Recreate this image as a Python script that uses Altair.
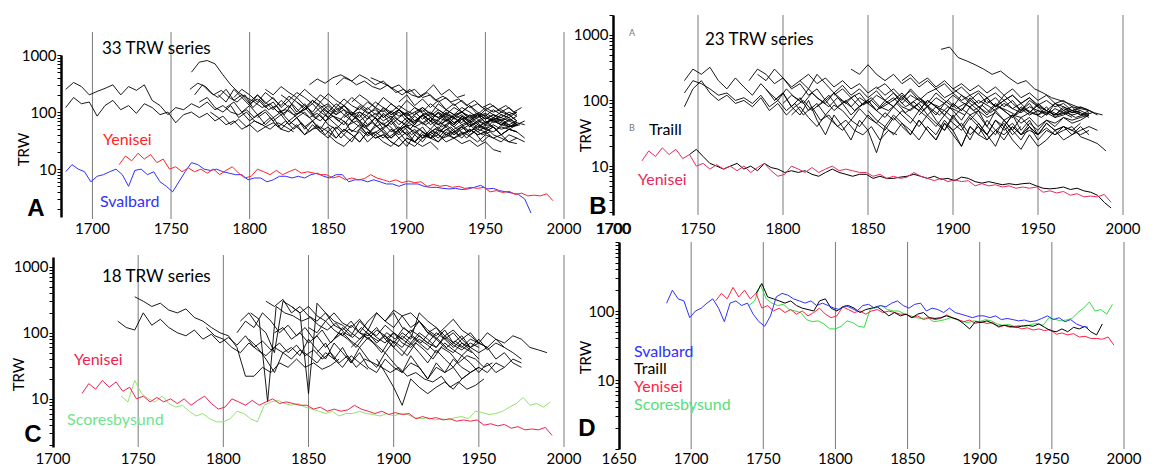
import altair as alt
import pandas as pd

FONT = "Lato"

# ---------------- Panel A: 33 TRW series (start year, values every 5 years) ----------------
A_STEP = 5
A_SERIES = [
    (1683, [250, 330, 280, 200, 230, 260, 300, 200, 280, 240, 300, 160, 130, 90, 120, 110, 140, 120, 150, 110, 130, 100, 90, 110, 80, 100]),
    (1683, [120, 180, 140, 150, 85, 130, 160, 110, 130, 95, 140, 120, 90, 100, 65, 90, 100, 80, 95, 70, 85, 60, 75, 55, 70, 60, 50, 65, 55, 45]),
    (1763, [500, 750, 800, 700, 450, 300, 220, 180, 150, 120, 140, 100, 110, 90, 100, 80, 95, 70, 85, 75, 60, 70, 55, 65, 50, 60, 45, 55, 60, 50, 40, 50, 45, 55, 40, 45, 50, 40, 45]),
    (1762, [250, 320, 280, 200, 240, 180, 150, 200, 120, 160, 110, 130, 90, 140, 100, 120, 80, 110, 90, 70, 100, 80, 60, 90, 70, 55, 80, 65, 50, 70, 60, 75, 55, 65, 50, 60, 70, 55, 60, 50, 65, 55, 60]),
    (1765, [200, 300, 220, 180, 250, 160, 200, 140, 170, 120, 150, 100, 130, 90, 110, 140, 100, 80, 120, 90, 70, 100, 85, 60, 95, 75, 110, 80, 65, 90, 70, 100, 80, 60, 85, 70, 90, 65, 75, 80]),
    (1768, [150, 180, 120, 100, 130, 80, 100, 70, 60, 80, 55, 70, 50, 65, 45, 60, 40, 55, 35, 50, 45, 60, 40, 50, 35, 45, 55, 40, 50, 38, 45, 35, 40, 50, 35, 45, 30, 40]),
    (1775, [100, 80, 60, 70, 50, 60, 45, 55, 65, 50, 45, 60, 40, 50, 55, 45, 35, 50, 40, 30, 45, 35, 40, 30, 25, 35, 30, 25, 30, 22]),
    (1780, [200, 150, 250, 180, 130, 200, 150, 110, 160, 120, 180, 130, 100, 150, 110, 90, 130, 100, 80, 120, 90, 110, 80, 100, 70, 90, 110, 80, 95, 70, 85, 100, 75, 90, 65, 80, 70, 90, 70]),
    (1785, [120, 150, 100, 130, 90, 110, 80, 100, 70, 90, 120, 85, 70, 100, 75, 60, 90, 70, 55, 80, 60, 75, 50, 70, 55, 65, 80, 60, 70, 55, 75, 60, 65, 50, 70, 60, 55, 65]),
    (1790, [180, 250, 200, 150, 220, 170, 130, 190, 150, 110, 160, 120, 140, 100, 130, 90, 120, 95, 110, 80, 105, 85, 95, 70, 90, 100, 80, 95, 75, 90, 70, 85, 95, 80, 100, 90, 70]),
    (1795, [100, 70, 90, 60, 80, 50, 70, 55, 40, 60, 45, 55, 35, 50, 40, 30, 45, 35, 40, 30, 25, 35, 30, 40, 35, 30, 40, 35, 45, 38, 30, 40, 35, 30, 40, 35, 30]),
    (1800, [150, 200, 140, 180, 120, 160, 100, 140, 90, 120, 80, 110, 130, 90, 100, 75, 95, 70, 85, 60, 80, 65, 90, 70, 60, 85, 65, 75, 55, 70, 60, 75, 65, 55, 60]),
    (1805, [80, 100, 70, 90, 60, 80, 55, 70, 90, 60, 50, 70, 45, 60, 40, 55, 65, 45, 55, 40, 50, 35, 45, 55, 40, 50, 60, 45, 55, 50, 60, 50, 55, 60]),
    (1810, [250, 200, 280, 220, 180, 250, 190, 150, 210, 160, 130, 180, 140, 110, 150, 120, 100, 130, 105, 90, 120, 95, 80, 110, 90, 100, 80, 95, 75, 90, 80, 70, 85]),
    (1815, [120, 90, 110, 80, 100, 70, 50, 80, 60, 45, 70, 55, 40, 60, 45, 35, 50, 40, 30, 45, 35, 40, 30, 35, 28, 32, 25, 30, 22, 20]),
    (1820, [200, 160, 220, 180, 140, 200, 160, 120, 170, 130, 110, 150, 120, 100, 140, 110, 90, 120, 95, 85, 110, 90, 80, 100, 85, 95, 75, 90, 80, 100, 85]),
    (1825, [60, 80, 50, 70, 45, 35, 55, 40, 30, 50, 38, 45, 35, 50, 40, 55, 45, 35, 50, 40, 60, 45, 55, 40, 50, 45, 55, 40, 50, 45]),
    (1830, [150, 120, 160, 130, 100, 140, 110, 90, 130, 100, 80, 120, 90, 110, 85, 100, 75, 95, 80, 70, 90, 75, 85, 65, 80, 70, 90, 80, 100]),
    (1838, [300, 380, 320, 400, 450, 380, 300, 350, 280, 250, 300, 220, 250, 200, 180, 220, 160, 190, 150, 170, 130, 160, 120, 140, 110, 130, 100, 120]),
    (1845, [100, 130, 90, 110, 70, 90, 60, 80, 50, 70, 45, 60, 40, 55, 35, 50, 40, 45, 35, 50, 40, 45, 35, 40, 30, 35]),
    (1850, [40, 30, 25, 35, 45, 30, 40, 50, 35, 45, 30, 25, 35, 40, 30, 45, 35, 40, 50, 40, 45, 55, 40, 50, 45]),
    (1855, [300, 400, 350, 450, 380, 300, 350, 260, 300, 220, 250, 180, 200, 150, 180, 130, 160, 120, 140, 110, 130, 100, 120, 90]),
    (1860, [80, 100, 70, 90, 120, 80, 100, 70, 60, 85, 65, 50, 70, 55, 80, 60, 70, 55, 65, 75, 60, 70, 60]),
    (1865, [150, 200, 160, 120, 180, 140, 110, 160, 120, 100, 140, 110, 90, 120, 100, 130, 100, 85, 110, 90, 80]),
    (1870, [60, 50, 40, 30, 25, 35, 45, 30, 40, 35, 45, 55, 40, 50, 60, 45, 55, 40, 35, 30, 28]),
    (1877, [400, 350, 300, 250, 200, 250, 180, 220, 300, 200, 250, 180, 200]),
    (1880, [70, 90, 60, 80, 100, 70, 85, 60, 75, 90, 65, 80, 55, 70, 85, 65, 75, 60, 70]),
    (1885, [120, 90, 110, 80, 60, 90, 70, 100, 75, 60, 85, 65, 80, 90, 70, 60, 75, 65]),
    (1890, [50, 35, 25, 40, 30, 45, 35, 50, 40, 55, 45, 60, 50, 45, 55, 50, 60]),
    (1895, [150, 200, 130, 170, 120, 160, 110, 140, 100, 130, 90, 120, 100, 110, 90, 100]),
    (1900, [80, 60, 90, 70, 50, 75, 60, 85, 65, 50, 70, 55, 40, 50, 45, 35]),
    (1905, [100, 120, 90, 140, 110, 90, 120, 100, 80, 110, 90, 70, 80, 60, 70]),
    (1910, [60, 80, 70, 100, 80, 65, 90, 75, 60, 80, 70, 55, 65, 60]),
]

# ---------------- Panel B: 23 TRW series ----------------
B_STEP = 5
B_SERIES = [
    (1742, [200, 300, 250, 320, 200, 150, 220, 160, 120, 180, 130, 100, 150, 110, 90, 130, 100, 80, 110, 90, 120, 85, 100, 75, 90, 110, 80, 95, 70, 90, 80, 100, 75, 90, 70, 85, 65, 80, 70, 60, 75, 65, 55, 70, 60, 65, 55, 60, 65]),
    (1742, [130, 200, 180, 150, 120, 130, 100, 110, 90, 120, 80, 100, 70, 90, 60, 80, 50, 60, 40, 50, 35, 30, 40, 25, 35, 30]),
    (1742, [80, 150, 200, 130, 100, 120, 90, 100, 80, 110, 70, 90, 60, 80, 100, 70, 90, 120, 80, 100, 70, 90, 110, 80, 70, 90, 65, 80, 100, 75, 60, 80, 70, 60]),
    (1780, [200, 300, 250, 180, 220, 150, 180, 120, 150, 100, 130, 90, 110, 80, 100, 70, 90, 110, 80, 70, 90, 60, 80, 70, 55, 75, 60, 70, 55, 65, 50, 60, 55, 65, 60, 70, 60, 65, 55]),
    (1785, [250, 200, 300, 220, 160, 200, 150, 250, 180, 130, 170, 120, 150, 110, 140, 100, 130, 90, 120, 100, 80, 110, 90, 120, 95, 80, 100, 85, 70, 90, 75, 65, 80, 70, 60, 75, 65, 70, 60, 65]),
    (1790, [150, 100, 130, 80, 60, 100, 50, 30, 60, 40, 25, 50, 35, 16, 40, 30, 45, 35, 25, 40, 30, 50, 35, 45, 30, 40, 25, 35, 45, 30, 40]),
    (1795, [100, 130, 80, 110, 70, 90, 60, 85, 70, 50, 75, 55, 45, 65, 50, 70, 55, 40, 60, 45, 35, 55, 40, 60, 45, 30, 50, 35, 45, 30, 40, 25, 35, 30, 40, 35, 45]),
    (1800, [90, 120, 100, 150, 110, 90, 130, 100, 80, 110, 90, 70, 100, 80, 120, 90, 70, 100, 80, 60, 90, 70, 100, 80, 60, 85, 70, 55, 75, 60, 70, 65, 55, 60, 70, 65]),
    (1805, [60, 80, 55, 40, 60, 45, 35, 50, 40, 60, 45, 35, 55, 40, 30, 50, 35, 25, 45, 35, 20, 40, 30, 25, 35, 30, 40, 30, 35, 30]),
    (1810, [200, 250, 180, 220, 160, 200, 150, 180, 130, 160, 120, 150, 110, 140, 100, 130, 150, 110, 130, 100, 120, 90, 110, 80, 100, 120, 90, 110, 80, 70, 90, 80, 70, 75]),
    (1820, [80, 100, 70, 90, 60, 80, 100, 70, 55, 80, 60, 45, 70, 55, 40, 60, 45, 35, 55, 40, 30, 50, 40, 60, 45, 55, 40, 50, 45, 55, 50, 55, 60]),
    (1830, [120, 150, 110, 130, 90, 120, 100, 80, 110, 85, 70, 100, 80, 60, 90, 70, 110, 80, 65, 90, 70, 55, 80, 65, 90, 70, 60, 80, 65, 70, 60]),
    (1840, [300, 250, 350, 250, 200, 250, 180, 220, 160, 200, 150, 180, 130, 160, 120, 140, 110, 130, 100, 120, 90, 110, 85, 100, 80, 90, 70, 80, 70]),
    (1850, [70, 50, 40, 60, 45, 30, 50, 35, 25, 45, 30, 20, 40, 30, 50, 35, 25, 40, 30, 45, 35, 50, 40, 55, 45, 50, 60]),
    (1855, [150, 180, 130, 100, 150, 110, 90, 130, 100, 80, 120, 90, 70, 110, 80, 100, 75, 90, 65, 85, 70, 60, 75, 65, 70]),
    (1865, [100, 130, 90, 110, 80, 60, 90, 70, 50, 80, 60, 40, 70, 50, 35, 55, 40, 30, 45, 35, 40, 35, 30, 35]),
    (1870, [200, 250, 180, 220, 160, 200, 150, 180, 140, 170, 130, 160, 120, 150, 110, 130, 100, 120, 90, 100, 80, 75, 70]),
    (1880, [60, 80, 50, 35, 60, 40, 25, 45, 30, 20, 40, 25, 18, 30, 20, 25, 35, 25, 30, 40, 30]),
    (1893, [600, 650, 450, 400, 350, 300, 250, 280, 220, 180, 200, 150, 130, 110, 100, 90, 80, 75, 65, 60]),
    (1900, [150, 120, 100, 130, 90, 110, 80, 100, 70, 90, 60, 80, 55, 70, 60, 65, 55]),
    (1910, [50, 70, 40, 30, 50, 35, 25, 40, 30, 38, 30, 35, 40, 28, 25, 22, 17]),
    (1920, [100, 80, 120, 90, 70, 100, 80, 60, 90, 70, 80, 60, 70, 60]),
    (1930, [40, 60, 35, 50, 30, 45, 35, 40, 30, 35, 40, 35]),
]

# ---------------- Panel C: 18 TRW series ----------------
C_STEP = 5
C_SERIES = [
    (1738, [150, 120, 110, 200, 130, 160, 120, 100, 90, 110, 80, 95, 70, 85, 65, 90, 60, 75, 55, 70, 50, 65, 45, 55, 40, 50, 35, 45, 30, 40, 35, 30, 25, 30, 22, 25, 20, 18, 22, 15, 18, 14, 16, 20]),
    (1748, [350, 300, 250, 280, 220, 200, 230, 170, 150, 120, 100, 90, 60, 22, 22, 30, 25, 35, 30, 40, 30, 35, 28, 32, 40]),
    (1790, [120, 90, 80, 60, 50, 70, 55, 45, 60, 50, 40, 55, 45, 35, 50, 40, 30, 45, 35, 28]),
    (1808, [100, 150, 120, 200, 150, 100, 130, 90, 120, 80, 110, 70, 100, 80, 60, 90, 70, 50, 80, 60, 45, 70, 55, 40, 60, 50, 35, 45, 40, 30, 35]),
    (1810, [150, 200, 130, 100, 50, 300, 250, 200, 250, 180, 150, 200, 140, 120, 160, 110, 90, 130, 100, 80, 110, 90, 70, 100, 80, 60, 80, 60, 70]),
    (1815, [80, 60, 40, 25, 50, 60, 45, 80, 55, 40, 70, 50, 35, 60, 40, 30, 50, 35, 25, 45, 30, 20, 35, 25, 30, 20, 25]),
    (1816, [200, 160, 9, 250, 200, 180, 150, 170, 130, 110, 140, 100, 85, 120, 90, 75, 100, 80, 120, 90, 70, 100, 80, 60, 75, 60, 50]),
    (1825, [300, 250, 320, 200, 250, 180, 150, 200, 130, 110, 150, 100, 90, 120, 80, 100, 70, 60, 80, 65, 50, 70, 55, 45, 60]),
    (1830, [100, 120, 80, 100, 70, 90, 60, 80, 100, 75, 60, 85, 65, 50, 75, 60, 90, 70, 55, 80, 60, 50, 70, 55, 40]),
    (1840, [250, 200, 12, 280, 200, 150, 130, 100, 80, 110, 85, 70, 100, 80, 65, 90, 70, 60, 85, 65, 55, 70, 60]),
    (1850, [120, 100, 150, 110, 90, 130, 100, 80, 110, 90, 70, 100, 80, 200, 150, 120, 90, 110, 80, 100, 70, 60]),
    (1855, [50, 70, 40, 60, 35, 50, 30, 25, 40, 30, 25, 35, 30, 20, 30, 25, 40, 30, 25, 30]),
    (1865, [80, 120, 90, 150, 110, 200, 150, 120, 180, 200, 150, 100, 80, 110, 70, 90, 60, 50, 60, 40, 50, 35, 30]),
    (1875, [60, 80, 100, 70, 90, 60, 45, 70, 50, 35, 55, 40, 30, 45, 35, 25, 35, 25, 30]),
    (1880, [100, 150, 200, 150, 220, 180, 120, 150, 100, 120, 80, 100, 70, 60, 80, 55, 70, 60]),
    (1890, [40, 25, 15, 8, 20, 15, 12, 15, 18, 14, 20, 25, 30, 25, 35, 30, 40, 35]),
    (1895, [150, 200, 120, 100, 150, 110, 90, 120, 160, 110, 90, 70, 100, 80, 60, 50, 40]),
    (1895, [80, 60, 90, 70, 100, 80, 60, 90, 70, 60, 80, 70, 60, 80, 70, 90, 80, 60, 55, 50]),
]

# ---------------- Regional chronologies (values every 4 years) ----------------
CHRON_STEP = 4
YENISEI_START = 1717
YENISEI = [12, 17, 14, 19, 15, 18, 13, 15, 10, 11, 9, 10.5, 9, 10, 8.5, 10, 8, 9.5, 11, 8.5,
           7, 7.5, 10, 9, 8, 9.5, 8, 9, 10, 8.5, 9, 8.5, 8, 8, 7, 7.5, 6.5, 7, 6.5, 6.8,
           8, 7, 6.5, 6, 6.5, 5.8, 6.2, 5.8, 6, 5, 5.4, 5, 5.2, 4.8, 5, 4.6, 4.8, 4.6, 4.8, 4,
           4.2, 3.9, 4.1, 3.6, 3.8, 3.4, 3.5, 3.4, 3.7, 2.8]
SVALBARD_A_START = 1683
SVALBARD_A = [9, 12, 10, 9, 6, 7.5, 8, 9, 10, 8, 5, 9.5, 10, 8, 9, 6, 5, 4, 6, 9, 13, 12, 10, 9.5, 10,
              9, 8.5, 8, 8, 6.5, 7, 7, 6, 6.5, 7.5, 7.5, 7, 7.5, 7, 8, 8.5, 7.5, 7, 8, 8, 6, 6.5, 6.5,
              6, 6.5, 6, 5.5, 5.5, 5, 5.5, 5.5, 5.5, 5, 4.8, 4.8, 4.6, 4.5, 4.6, 4.4, 4.5, 4.8, 5.2,
              4.5, 4.6, 4.2, 4.0, 3.8, 3.6, 3.0, 1.7]
TRAILL_B_START = 1745
TRAILL_B = [15, 18, 14, 11, 10, 9, 10, 11, 9, 10, 8.5, 11, 9.5, 9, 8, 8.5, 8, 8.5, 7.5, 7, 8, 9, 8,
            7.5, 7, 7.5, 7.5, 6.5, 7, 6.5, 6.5, 6.8, 7, 7.5, 7, 6.5, 7, 6.3, 6.5, 6, 6.8, 6.5, 5.8,
            5.5, 5.8, 5.5, 5.2, 5.4, 5.2, 5.4, 5.5, 5.0, 4.6, 4.5, 4.6, 4.8, 4.4, 4.6, 4.2, 4.0, 3.6, 2.8, 2.3]
SCORESBY_C_START = 1740
SCORESBY_C = [11, 9, 19, 12, 10, 9, 11, 8.5, 7.5, 8, 6.5, 5.5, 6, 5, 4.5, 4.5, 5, 6.5, 6, 5, 4.5, 8, 9,
              9.5, 8.5, 8, 8.5, 7.5, 7, 6.5, 6, 6.5, 5.5, 6, 6, 6.5, 6, 5.8, 5.5, 6, 5.5, 6, 5.8, 5.2, 5,
              5.2, 4.8, 5, 4.8, 5.2, 5.4, 5.0, 6.5, 6.2, 5.8, 6, 6.5, 7.5, 8.5, 10.5, 8, 8.5, 7.5, 9]

D_SVALBARD_START = 1683
D_SVALBARD = [130, 200, 150, 140, 80, 100, 110, 130, 150, 110, 70, 130, 140, 120, 130, 90, 70, 60, 85,
              160, 180, 170, 150, 140, 130, 140, 120, 130, 120, 110, 105, 120, 110, 100, 120, 125, 110,
              120, 115, 130, 140, 120, 110, 125, 130, 100, 110, 105, 95, 110, 95, 90, 85, 80, 85, 85,
              80, 85, 75, 78, 75, 72, 74, 70, 72, 78, 85, 75, 80, 70, 75, 65, 60, 58]
D_TRAILL_START = 1745
D_TRAILL = [180, 250, 160, 150, 140, 130, 140, 120, 110, 105, 100, 140, 150, 110, 100, 115, 120, 110,
            95, 105, 110, 115, 100, 85, 95, 85, 90, 80, 90, 95, 80, 78, 80, 85, 80, 75, 65, 55, 70, 68,
            72, 66, 60, 62, 60, 58, 60, 62, 60, 65, 58, 52, 50, 55, 50, 58, 55, 60, 50, 45, 65]
D_YENISEI_START = 1717
D_YENISEI = [140, 180, 150, 220, 160, 200, 150, 180, 110, 120, 100, 110, 95, 105, 90, 100, 85, 95, 110,
             90, 80, 85, 115, 105, 95, 100, 90, 100, 105, 95, 100, 95, 90, 90, 80, 85, 75, 80, 75, 78,
             88, 80, 75, 70, 74, 66, 70, 66, 68, 58, 62, 58, 60, 55, 57, 53, 55, 52, 54, 46, 48, 45,
             47, 42, 43, 40, 40, 39, 42, 32]
D_SCORESBY_START = 1740
D_SCORESBY = [120, 140, 240, 150, 130, 120, 125, 105, 100, 95, 75, 70, 72, 65, 55, 55, 60, 72, 68, 60,
              58, 105, 115, 120, 105, 100, 100, 90, 85, 80, 78, 80, 70, 72, 75, 80, 75, 70, 68, 72, 70,
              75, 72, 65, 62, 64, 60, 62, 60, 64, 66, 62, 80, 76, 72, 74, 78, 95, 110, 135, 100, 105, 90, 125]

GRID_A = [1700, 1750, 1800, 1850, 1900, 1950, 2000]
GRID_BCD = [1750, 1800, 1850, 1900, 1950, 2000]
GRID_D = [1700, 1750, 1800, 1850, 1900, 1950, 2000]
XLAB_ABC = [1700, 1750, 1800, 1850, 1900, 1950, 2000]
XLAB_D = [1650, 1700, 1750, 1800, 1850, 1900, 1950, 2000]
MINOR = [2, 3, 4, 5, 6, 7, 8, 9, 10, 20, 30, 40, 50, 60, 70, 80, 90,
         100, 200, 300, 400, 500, 600, 700, 800, 900, 1000]


def multi_frame(series, step):
    rows = []
    for sid, (start, vals) in enumerate(series):
        for i, v in enumerate(vals):
            rows.append({"sid": sid, "year": start + step * i, "value": v})
    return pd.DataFrame(rows)


def single_frame(start, vals, step=CHRON_STEP):
    return pd.DataFrame({"year": [start + step * i for i in range(len(vals))], "value": vals})


def txt(s, x, y, color="black", size=16, weight="normal", font=FONT, align="left"):
    return alt.Chart(alt.Data(values=[{"t": s}])).mark_text(
        align=align, baseline="middle", font=font, fontSize=size,
        fontWeight=weight, color=color
    ).encode(x=alt.value(x), y=alt.value(y), text="t:N")


def panel(name, x_dom, x_rng, y_dom, y_rng, y_ticks, y_labels, offset, width, height,
          grid_years, grid_top, grid_bottom, x_labels, x_label_y, title_x, title_y,
          black_df, colored, texts, extra=None):
    xs = alt.Scale(domain=x_dom, range=x_rng, nice=False, zero=False)
    ys = alt.Scale(type="log", domain=y_dom, range=y_rng, nice=False)
    cond = " || ".join(f"datum.value == {v}" for v in y_labels)
    yax = alt.Axis(values=y_ticks, title="TRW", labelExpr=f"({cond}) ? format(datum.value, 'd') : ''",
                   domain=True, domainColor="black", domainWidth=2.5, tickColor="black",
                   tickSize=4, tickWidth=1, grid=False, offset=offset,
                   labelFont=FONT, labelFontSize=15, labelColor="black", labelPadding=1,
                   labelFlush=False, labelOverlap=False,
                   titleFont=FONT, titleFontSize=15, titleFontWeight="normal", titleColor="black",
                   titleX=title_x, titleY=title_y, titleAngle=270, titleAlign="center",
                   titleBaseline="middle")
    X = alt.X("year:Q", scale=xs, axis=None)
    Y = alt.Y("value:Q", scale=ys, axis=yax)

    layers = []
    grid = alt.Chart(pd.DataFrame({"year": grid_years, "p": name})).mark_rule(
        color="#7a7a7a", strokeWidth=1
    ).encode(x=X, y=alt.value(grid_top), y2=alt.value(grid_bottom))
    layers.append(grid)
    if black_df is not None:
        layers.append(alt.Chart(black_df).mark_line(color="black", strokeWidth=0.9).encode(
            x=X, y=Y, detail="sid:N"))
    for df, color, sw in colored:
        layers.append(alt.Chart(df).mark_line(color=color, strokeWidth=sw).encode(x=X, y=Y))
    layers.extend(texts)
    if extra is not None:
        layers.extend(extra)
    # x tick labels (years) placed through the x scale
    layers.append(alt.Chart(pd.DataFrame({"year": x_labels, "lab": [str(v) for v in x_labels],
                                          "p": name + "lab"})).mark_text(
        font=FONT, fontSize=15, color="black", align="center", baseline="middle"
    ).encode(x=X, y=alt.value(x_label_y), text="lab:N"))
    return alt.layer(*layers).properties(width=width, height=height)


# anchor so that the top-left plot sits at its reference position
anchor = alt.Chart(alt.Data(values=[{"k": 1}])).mark_rule(color="white", strokeWidth=1).encode(
    x=alt.value(-44.5), x2=alt.value(-44.5), y=alt.value(-4.5), y2=alt.value(-3.5))

RED = "#ff2424"
PINK = "#e8295c"
BLUE = "#3030ff"
LGREEN = "#93e36c"

panelA = panel(
    "A", [1680, 2000], [8, 511], [1.45, 1000], [202, 40], MINOR, [10, 100, 1000], -8, 511, 208,
    GRID_A, 17, 204, XLAB_ABC, 214, -38, 134,
    multi_frame(A_SERIES, A_STEP),
    [(single_frame(SVALBARD_A_START, SVALBARD_A), BLUE, 1),
     (single_frame(YENISEI_START, YENISEI), RED, 1)],
    [txt("33 TRW series", 49, 34, size=17),
     txt("Yenisei", 50, 125, color=RED),
     txt("Svalbard", 47, 187, color=BLUE),
     txt("A", -17, 194, size=24, weight="bold", font="Liberation Sans", align="center")],
    extra=[anchor])

panelB = panel(
    "B", [1700, 2000], [0, 510], [1.8, 2000], [200, 0], MINOR + [2000], [10, 100, 1000], 0, 511, 208,
    GRID_BCD, 0, 200, XLAB_ABC, 214, -28, 120,
    multi_frame(B_SERIES, B_STEP),
    [(single_frame(TRAILL_B_START, TRAILL_B), "black", 1),
     (single_frame(YENISEI_START, YENISEI), PINK, 1)],
    [txt("23 TRW series", 92, 25, size=17),
     txt("Traill", 36, 115),
     txt("Yenisei", 25, 165, color=PINK),
     txt("A", 16, 18, color="#777777", size=9),
     txt("B", 16, 113, color="#777777", size=9),
     txt("B", -15, 192, size=24, weight="bold", font="Liberation Sans", align="center"),
     txt("1700", 1, 214, size=15, align="center")])

panelC = panel(
    "C", [1700, 2000], [0, 511], [1.87, 1400], [205, 15], MINOR, [10, 100, 1000], 0, 511, 208,
    GRID_BCD, 13, 205, XLAB_ABC, 217, -35, 132,
    multi_frame(C_SERIES, C_STEP),
    [(single_frame(SCORESBY_C_START, SCORESBY_C), LGREEN, 1),
     (single_frame(YENISEI_START, YENISEI), "#f0224e", 1)],
    [txt("18 TRW series", 49, 35, size=17),
     txt("Yenisei", 21, 118, color="#f0224e"),
     txt("Scoresbysund", 14, 178, color="#6fe48c"),
     txt("C", -20, 193, size=24, weight="bold", font="Liberation Sans", align="center")])

panelD = panel(
    "D", [1650, 2000], [6, 511], [1, 1000], [207, 0], [1] + MINOR, [10, 100], -6, 511, 208,
    GRID_D, 0, 207, XLAB_D, 217, -34, 115,
    None,
    [(single_frame(D_SCORESBY_START, D_SCORESBY), "#33dd44", 1),
     (single_frame(D_YENISEI_START, D_YENISEI), "#ff2244", 1),
     (single_frame(D_TRAILL_START, D_TRAILL), "black", 1),
     (single_frame(D_SVALBARD_START, D_SVALBARD), BLUE, 1)],
    [txt("Svalbard", 21, 110, color=BLUE),
     txt("Traill", 21, 127),
     txt("Yenisei", 21, 145, color="#ff2244"),
     txt("Scoresbysund", 21, 163, color="#55e07a"),
     txt("D", -26, 187, size=24, weight="bold", font="Liberation Sans", align="center")])

chart = alt.concat(
    panelA, panelB, panelC, panelD, columns=2,
    spacing={"row": 19, "column": 49}, bounds="flush"
).properties(padding=0, background="white").configure_view(stroke=None)

chart.save("out.html", embed_options={"renderer": "svg", "actions": False})
